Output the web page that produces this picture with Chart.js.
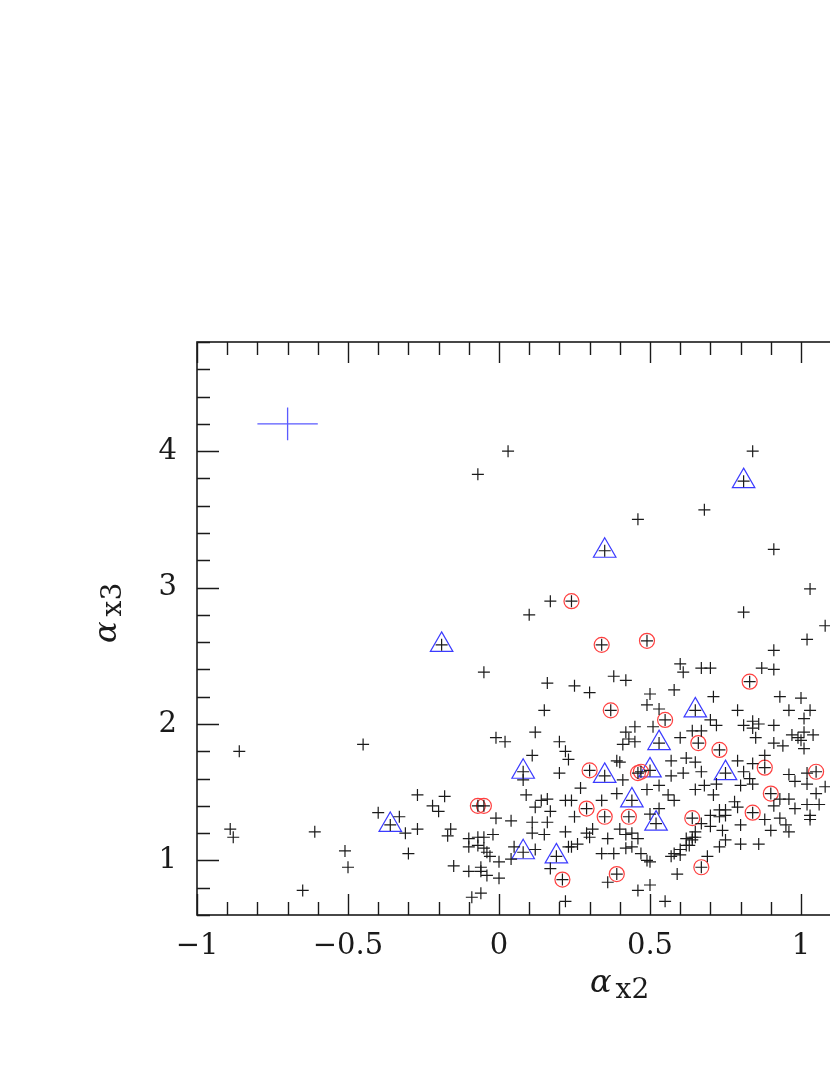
<!DOCTYPE html>
<html>
<head>
<meta charset="utf-8">
<script src="https://cdn.jsdelivr.net/npm/chart.js@4/dist/chart.umd.min.js"></script>
<style>
  html, body { margin: 0; padding: 0; overflow: hidden; background: #fff; }
</style>
</head>
<body>
<canvas id="plot" width="1000" height="1075"></canvas>
<script>
// black "+" points (alpha_x2, alpha_x3)
const plusX = [0.03,0.84,-0.07,0.68,0.46,0.91,0.17,0.10,0.81,1.03,1.08,1.02,0.91,-0.05,0.16,0.25,0.30,0.38,0.42,0.60,
  0.61,0.50,0.58,0.49,0.53,0.67,0.70,0.87,0.91,0.71,0.93,1.00,0.96,1.03,0.79,0.15,0.12,-0.01,0.02,0.11,
  0.45,0.51,0.42,0.43,0.45,0.41,0.60,0.20,0.22,0.23,0.39,0.40,0.57,0.62,0.70,0.72,0.81,0.84,0.86,0.84,
  0.91,1.01,1.01,0.64,0.67,0.85,0.97,0.99,1.00,1.04,0.91,0.94,1.01,0.88,0.79,0.84,0.65,
  -0.86,-0.45,-0.89,-0.88,-0.61,-0.51,-0.50,-0.65,-0.31,-0.27,-0.30,-0.40,-0.33,-0.27,-0.18,-0.22,-0.20,-0.16,-0.17,-0.15,-0.09,-0.06,
  0.08,0.09,-0.01,0.04,0.12,0.11,0.14,-0.10,-0.07,-0.05,-0.02,-0.10,-0.07,-0.05,-0.04,-0.03,0.00,-0.10,-0.06,-0.06,-0.04,0.00,0.05,0.04,0.12,0.11,0.15,
  0.20,0.41,0.57,0.61,0.27,0.22,0.24,0.16,0.34,0.39,0.49,0.53,0.56,0.58,0.53,0.50,0.25,0.17,0.16,0.22,0.29,0.30,0.31,0.36,0.40,0.42,0.44,0.46,
  0.26,0.24,0.23,0.34,0.38,0.42,0.44,0.47,0.49,0.50,0.57,0.60,0.62,0.62,0.17,0.36,0.46,0.50,0.59,0.22,0.55,
  0.69,0.73,0.80,0.86,0.90,0.96,1.03,0.80,0.63,0.64,0.64,0.58,0.60,
  0.67,0.81,0.83,0.84,0.80,0.72,0.68,0.65,0.71,0.96,0.98,1.02,1.02,1.05,1.08,0.93,0.96,0.91,0.98,1.02,1.06,1.03,
  0.78,0.79,0.75,0.73,0.75,0.73,0.70,0.88,0.93,0.95,0.74,0.67,0.70,0.65,0.65,0.75];
const plusY = [4.00,4.00,3.83,3.57,3.50,3.28,2.90,2.80,2.82,2.99,2.72,2.62,2.54,2.38,2.30,2.28,2.23,2.35,2.32,2.44,
  2.38,2.22,2.25,2.14,2.11,2.41,2.41,2.41,2.40,2.20,2.20,2.19,2.10,2.10,2.10,2.10,1.94,1.90,1.87,1.77,
  1.98,1.98,1.94,1.89,1.87,1.85,1.90,1.87,1.80,1.74,1.73,1.72,1.73,1.75,2.03,1.99,1.99,2.02,2.00,1.97,
  1.99,2.04,1.94,1.95,1.95,1.90,1.92,1.90,1.88,1.92,1.86,1.84,1.82,1.77,1.73,1.71,1.72,
  1.80,1.85,1.23,1.17,1.21,1.07,0.95,0.78,1.20,1.23,1.05,1.35,1.32,1.48,1.47,1.40,1.36,1.23,1.18,0.96,0.73,0.76,
  1.59,1.48,1.31,1.29,1.39,1.28,1.44,1.16,1.17,1.17,1.19,1.10,1.11,1.09,1.06,1.03,0.99,0.92,0.95,0.92,0.89,0.87,1.10,1.01,1.08,1.20,1.19,
  1.64,1.59,1.62,1.64,1.53,1.44,1.44,1.45,1.44,1.49,1.52,1.55,1.48,1.44,1.38,1.34,1.32,1.36,1.28,1.21,1.20,1.17,1.23,1.16,1.23,1.19,1.20,1.16,
  1.12,1.10,1.10,1.05,1.05,1.09,1.10,1.05,1.00,0.99,1.03,1.04,1.11,1.16,0.94,0.84,0.78,0.82,0.90,0.70,0.70,
  1.03,1.10,1.12,1.12,1.22,1.21,1.30,1.26,1.11,1.15,1.17,1.05,1.08,
  1.65,1.65,1.60,1.56,1.55,1.56,1.55,1.52,1.48,1.63,1.58,1.64,1.56,1.49,1.54,1.45,1.45,1.40,1.38,1.41,1.41,1.33,
  1.43,1.39,1.37,1.37,1.33,1.32,1.33,1.30,1.31,1.26,1.22,1.27,1.25,1.21,1.17,1.15];

// red circles (each also carries a "+")
const circleX = [0.24,0.34,0.49,0.37,0.55,0.83,0.66,0.73,0.88,1.05,0.30,0.46,0.47,-0.07,-0.05,0.29,0.35,0.43,0.64,0.90,0.84,0.21,0.39,0.67];
const circleY = [2.90,2.58,2.61,2.10,2.03,2.31,1.86,1.81,1.68,1.65,1.66,1.64,1.65,1.40,1.40,1.38,1.32,1.32,1.31,1.49,1.35,0.86,0.90,0.95];

// blue triangles (each also carries a "+")
const triX = [0.81,0.35,-0.19,0.65,0.53,0.08,0.35,0.50,0.75,0.44,0.52,-0.36,0.08,0.19];
const triY = [3.78,3.27,2.58,2.10,1.86,1.65,1.62,1.66,1.64,1.44,1.27,1.26,1.06,1.03];

// typical error bar
const errX = -0.70, errY = 4.20, errDx = 0.10, errDy = 0.12;

// axes
const xRange = [-1, 1.5];
const yRange = [0.6, 4.8];
const xLabels = [-1, -0.5, 0, 0.5, 1, 1.5];
const yLabels = [1, 2, 3, 4];
const xMinorStep = 0.1, yMinorStep = 0.2;

const pts = (xs, ys) => xs.map((x, i) => ({ x: x, y: ys[i] }));
const fmt = v => (v < 0 ? '\u2212' + Math.abs(v) : String(v));

const framePlugin = {
  id: 'frame',
  afterDatasetsDraw(chart) {
    const { ctx, chartArea: a, scales: { x, y } } = chart;
    ctx.save();
    ctx.strokeStyle = '#1a1a1a';
    ctx.lineWidth = 1.6;
    ctx.strokeRect(a.left, a.top, a.right - a.left, a.bottom - a.top);
    ctx.lineWidth = 1.4;
    ctx.beginPath();
    for (let v = xRange[0]; v <= xRange[1] + 1e-9; v += xMinorStep) {
      const major = Math.abs(v / 0.5 - Math.round(v / 0.5)) < 1e-6;
      const len = major ? 21 : 13;
      const px = Math.round(x.getPixelForValue(v)) + 0.5;
      ctx.moveTo(px, a.bottom); ctx.lineTo(px, a.bottom - len);
      ctx.moveTo(px, a.top); ctx.lineTo(px, a.top + len);
    }
    for (let v = yRange[0]; v <= yRange[1] + 1e-9; v += yMinorStep) {
      const major = Math.abs(v - Math.round(v)) < 1e-6;
      const len = major ? 22 : 13;
      const py = Math.round(y.getPixelForValue(v)) + 0.5;
      ctx.moveTo(a.left, py); ctx.lineTo(a.left + len, py);
      ctx.moveTo(a.right, py); ctx.lineTo(a.right - len, py);
    }
    ctx.stroke();
    ctx.restore();
  },
  afterDraw(chart) {
    const ctx = chart.ctx;
    ctx.save();
    ctx.fillStyle = '#1a1a1a';
    ctx.textAlign = 'left';
    ctx.textBaseline = 'alphabetic';
    const big = 'italic 32px "DejaVu Serif"', small = '28px "DejaVu Serif"';
    // x title
    ctx.font = big;
    ctx.fillText('\u03b1', 590, 992);
    let w = ctx.measureText('\u03b1').width;
    ctx.font = small;
    ctx.fillText('x2', 590 + w + 4, 998);
    // y title
    ctx.translate(116, 643);
    ctx.rotate(-Math.PI / 2);
    ctx.font = big;
    ctx.fillText('\u03b1', 0, 0);
    w = ctx.measureText('\u03b1').width;
    ctx.font = small;
    ctx.fillText('x3', w + 5, 5);
    ctx.restore();
  }
};

const tickFont = { family: '"DejaVu Serif"', size: 29 };

new Chart(document.getElementById('plot').getContext('2d'), {
  type: 'scatter',
  data: {
    datasets: [
      {
        data: pts(plusX.concat(circleX, triX), plusY.concat(circleY, triY)),
        pointStyle: 'cross', pointRadius: 6, borderColor: '#1a1a1a', borderWidth: 1.2
      },
      {
        data: pts(circleX, circleY),
        pointStyle: 'circle', pointRadius: 7.5, borderColor: '#ff4040', borderWidth: 1.2,
        backgroundColor: 'rgba(0,0,0,0)'
      },
      {
        data: pts(triX, triY),
        pointStyle: 'triangle', pointRadius: 13, borderColor: '#3b3bff', borderWidth: 1.2,
        backgroundColor: 'rgba(0,0,0,0)'
      },
      {
        data: [
          { x: errX - errDx, y: errY }, { x: errX + errDx, y: errY },
          { x: errX, y: null },
          { x: errX, y: errY - errDy }, { x: errX, y: errY + errDy }
        ],
        showLine: true, spanGaps: false, pointRadius: 0,
        borderColor: '#5a5aff', borderWidth: 1.3
      }
    ]
  },
  options: {
    responsive: false,
    animation: false,
    events: [],
    layout: { padding: { left: 0, top: 342, right: 48, bottom: 0 } },
    plugins: { legend: { display: false }, tooltip: { enabled: false } },
    scales: {
      x: {
        type: 'linear', min: xRange[0], max: xRange[1],
        grid: { display: false, drawTicks: false }, border: { display: false },
        afterBuildTicks: s => { s.ticks = xLabels.map(v => ({ value: v })); },
        afterFit: s => { s.height = 160; },
        ticks: { font: tickFont, color: '#1a1a1a', padding: 14, maxRotation: 0, autoSkip: false, callback: fmt }
      },
      y: {
        type: 'linear', min: yRange[0], max: yRange[1],
        grid: { display: false, drawTicks: false }, border: { display: false },
        afterBuildTicks: s => { s.ticks = yLabels.map(v => ({ value: v })); },
        afterFit: s => { s.width = 197; },
        ticks: { font: tickFont, color: '#1a1a1a', padding: 20, autoSkip: false, callback: fmt }
      }
    }
  },
  plugins: [framePlugin]
});
</script>
</body>
</html>
